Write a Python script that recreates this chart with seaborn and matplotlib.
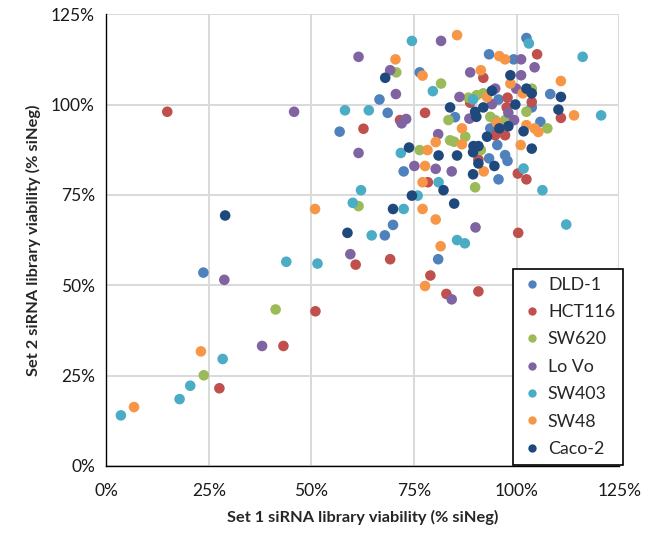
import numpy as np
import pandas as pd
import matplotlib
matplotlib.use("Agg")
import matplotlib.pyplot as plt
from matplotlib.ticker import FuncFormatter, MultipleLocator
import seaborn as sns

# Viability (% of siNeg) per cell line: set 1 (x) vs set 2 (y)
cell_lines = ["DLD-1", "HCT116", "SW620", "Lo Vo", "SW403", "SW48", "Caco-2"]
colors = ["#4F81BD", "#C0504D", "#9BBB59", "#8064A2", "#4BACC6", "#F79646", "#1F497D"]

dld1_x = [23.7, 72.5, 95.6, 93.3, 69.9, 67.9, 80.9, 76.4, 66.6, 68.6, 56.9, 102.4, 93.3, 99.3,
          95.6, 108.2, 103.7, 105.8, 93.6, 95.3, 97.2, 97.8, 85.0]
dld1_y = [53.5, 81.5, 79.3, 85.1, 66.7, 63.8, 57.2, 108.9, 101.4, 97.7, 92.5, 118.4, 113.9, 112.5,
          101.4, 102.9, 99.2, 95.2, 93.4, 88.8, 86.0, 84.4, 96.5]

hct116_x = [14.9, 51.0, 43.2, 27.6, 90.7, 78.4, 60.8, 69.2, 79.0, 82.9, 90.7, 77.7, 71.6, 62.7,
            105.0, 91.9, 97.8, 103.7, 97.6, 110.8, 94.8, 97.2, 100.3, 102.4, 100.4, 88.7]
hct116_y = [98.0, 42.8, 33.2, 21.5, 84.8, 78.5, 55.7, 57.2, 52.7, 47.6, 48.3, 97.7, 95.7, 93.3,
            113.9, 107.4, 101.9, 100.7, 99.2, 96.3, 91.5, 91.5, 80.9, 79.3, 64.5, 100.5]

sw620_x = [41.3, 23.8, 89.9, 61.5, 70.7, 81.6, 76.4, 83.4, 83.8, 88.3, 90.3, 91.9, 103.7, 102.4,
           93.6, 94.8, 97.2, 107.5, 87.5, 84.8, 91.3]
sw620_y = [43.3, 25.1, 77.1, 71.9, 108.9, 105.8, 87.4, 95.7, 90.1, 101.9, 102.6, 103.1, 104.4, 98.0,
           96.6, 95.7, 95.7, 93.4, 91.1, 89.7, 87.4]

lovo_x = [28.8, 45.8, 38.0, 61.5, 75.1, 80.3, 84.2, 90.0, 59.5, 84.2, 81.6, 61.5, 69.2, 70.6,
          73.1, 72.0, 80.9, 101.1, 104.4, 88.7, 101.1, 94.8, 86.1, 99.9, 94.0, 88.5, 98.0, 99.4]
lovo_y = [51.5, 98.0, 33.2, 86.6, 83.0, 82.2, 81.5, 66.0, 58.6, 46.1, 117.6, 113.2, 109.5, 102.9,
          96.0, 94.8, 91.8, 112.5, 110.3, 108.9, 108.1, 104.4, 102.1, 104.4, 100.1, 96.1, 97.7, 95.7]

sw403_x = [3.6, 20.5, 17.9, 28.4, 43.9, 51.5, 71.8, 81.0, 62.1, 75.9, 60.1, 72.5, 64.7, 85.5,
           87.4, 74.5, 79.6, 58.2, 64.0, 103.0, 116.1, 89.4, 120.6, 101.7, 106.3, 112.1]
sw403_y = [14.0, 22.2, 18.5, 29.6, 56.5, 56.0, 86.6, 78.5, 76.3, 74.8, 72.8, 71.1, 63.8, 62.5,
           61.6, 117.6, 103.7, 98.4, 98.4, 116.9, 113.2, 101.4, 97.0, 82.3, 76.3, 66.8]

sw48_x = [6.8, 23.1, 77.7, 92.0, 77.1, 50.9, 77.1, 80.3, 81.5, 77.7, 70.5, 77.1, 78.3, 80.3,
          85.5, 95.8, 97.2, 91.3, 110.8, 98.5, 92.8, 101.5, 114.0, 104.4, 105.3, 102.4, 86.7,
          95.2, 86.7, 101.0]
sw48_y = [16.3, 31.7, 83.0, 81.5, 78.5, 71.1, 71.1, 68.2, 60.8, 49.8, 112.5, 108.0, 87.4, 89.6,
          119.2, 113.4, 112.5, 109.5, 106.5, 105.8, 102.1, 103.1, 97.0, 93.4, 92.4, 94.3, 93.4,
          94.9, 89.0, 88.8]

caco2_x = [29.0, 81.0, 85.5, 89.4, 90.7, 94.6, 89.4, 82.2, 74.5, 84.8, 69.9, 58.8, 68.0, 73.8,
           83.8, 98.5, 94.0, 102.4, 103.7, 110.8, 91.9, 99.7, 110.2, 89.9, 90.2, 101.7, 95.8,
           98.0, 92.8, 90.7, 89.5, 103.7]
caco2_y = [69.3, 85.9, 85.9, 86.8, 83.7, 83.0, 80.7, 76.3, 74.8, 72.6, 71.1, 64.5, 107.4, 88.1,
           99.2, 108.1, 103.8, 104.4, 103.1, 102.1, 99.2, 100.0, 98.6, 98.0, 96.6, 92.6, 93.4,
           94.0, 91.1, 88.5, 88.5, 87.8]

series_x = [dld1_x, hct116_x, sw620_x, lovo_x, sw403_x, sw48_x, caco2_x]
series_y = [dld1_y, hct116_y, sw620_y, lovo_y, sw403_y, sw48_y, caco2_y]

frames = []
for name, xs, ys in zip(cell_lines, series_x, series_y):
    frames.append(pd.DataFrame({"set1": np.array(xs) / 100.0,
                                "set2": np.array(ys) / 100.0,
                                "line": name}))
df = pd.concat(frames, ignore_index=True)

sns.set_style("whitegrid")
plt.rcParams["font.family"] = ["Lato", "DejaVu Sans"]

fig = plt.figure(figsize=(6.47, 5.45), dpi=100)
ax = fig.add_axes([0.164, 0.145, 0.793, 0.829])

sns.scatterplot(data=df, x="set1", y="set2", hue="line", hue_order=cell_lines,
                palette=colors, s=58, linewidth=0, alpha=1.0, ax=ax, legend=False, zorder=3)

ax.set_xlim(0, 1.25)
ax.set_ylim(0, 1.25)
pct = FuncFormatter(lambda v, _: f"{v * 100:.0f}%")
ax.xaxis.set_major_locator(MultipleLocator(0.25))
ax.yaxis.set_major_locator(MultipleLocator(0.25))
ax.xaxis.set_major_formatter(pct)
ax.yaxis.set_major_formatter(pct)

ax.grid(True, color="#D9D9D9", linewidth=1.4)
ax.set_axisbelow(True)
for side in ["top", "right"]:
    ax.spines[side].set_visible(False)
for side in ["left", "bottom"]:
    ax.spines[side].set_color("black")
    ax.spines[side].set_linewidth(1.0)

ax.tick_params(axis="both", which="major", direction="out", length=5, width=1,
               color="black", labelsize=12.5, labelcolor="#1a1a1a")
ax.tick_params(axis="x", pad=7)
ax.tick_params(axis="y", pad=3)

ax.set_xlabel("Set 1 siRNA library viability (% siNeg)", fontsize=11.8,
              fontweight="bold", labelpad=8)
ax.set_ylabel("Set 2 siRNA library viability (% siNeg)", fontsize=11.8,
              fontweight="bold", labelpad=7)

handles = [plt.Line2D([0], [0], marker="o", linestyle="", markersize=6,
                      markerfacecolor=c, markeredgewidth=0) for c in colors]
leg = ax.legend(handles, cell_lines, loc="lower right",
                bbox_to_anchor=(623 / 647, (545 - 465) / 545),
                bbox_transform=fig.transFigure,
                frameon=True, fancybox=False, fontsize=12.8,
                handletextpad=0.3, labelspacing=0.64, borderpad=0.45,
                handlelength=1.2, borderaxespad=0)
leg.get_frame().set_edgecolor("black")
leg.get_frame().set_linewidth(1.2)
leg.get_frame().set_facecolor("white")
leg.get_frame().set_alpha(1.0)
leg.set_zorder(5)

fig.savefig("out.png", dpi=100)
